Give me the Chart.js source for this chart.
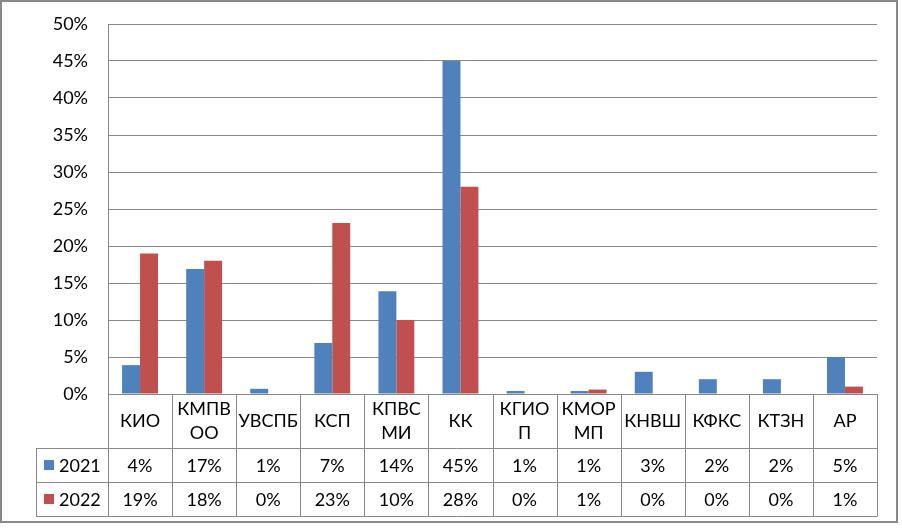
<!DOCTYPE html>
<html>
<head>
<meta charset="utf-8">
<script src="https://cdn.jsdelivr.net/npm/chart.js@4"></script>
<style>
  body { margin: 0; background: #fff; }
  canvas { display: block; }
</style>
</head>
<body>
<canvas id="chart" width="902" height="528"></canvas>
<script>
// Categories (split into lines as shown in the table header)
const categories = [
  ["КИО"], ["КМПВ", "ОО"], ["УВСПБ"], ["КСП"], ["КПВС", "МИ"], ["КК"],
  ["КГИО", "П"], ["КМОР", "МП"], ["КНВШ"], ["КФКС"], ["КТЗН"], ["АР"]
];
const seriesNames = ["2021", "2022"];
const values2021 = [3.9, 16.9, 0.7, 6.9, 13.9, 45, 0.4, 0.4, 3, 2, 2, 5];
const values2022 = [19, 18, 0, 23.1, 10, 28, 0, 0.6, 0, 0, 0, 1];
// Data table text as printed under the chart
const table2021 = ["4%", "17%", "1%", "7%", "14%", "45%", "1%", "1%", "3%", "2%", "2%", "5%"];
const table2022 = ["19%", "18%", "0%", "23%", "10%", "28%", "0%", "1%", "0%", "0%", "0%", "1%"];
const yTicks = [0, 5, 10, 15, 20, 25, 30, 35, 40, 45, 50];

const blue = "#4F81BD";
const red = "#C0504D";
const lineGray = "#898989";
const FONT = 'Lato, "Noto Sans", sans-serif';

const dataTablePlugin = {
  id: "dataTable",
  afterDraw(chart) {
    const ctx = chart.ctx;
    const x = chart.scales.x;
    const area = chart.chartArea;
    const top = area.bottom;
    const headerBottom = top + 54;
    const row1Bottom = headerBottom + 34;
    const row2Bottom = row1Bottom + 34;
    const legendLeft = 36;
    const n = categories.length;
    const step = (area.right - area.left) / n;

    ctx.save();
    ctx.strokeStyle = lineGray;
    ctx.lineWidth = 1;
    ctx.beginPath();
    // vertical lines at category boundaries
    for (let i = 0; i <= n; i++) {
      const px = Math.round(area.left + i * step) + 0.5;
      ctx.moveTo(px, top);
      ctx.lineTo(px, row2Bottom);
    }
    // horizontal row lines
    [headerBottom, row1Bottom, row2Bottom].forEach((yy) => {
      ctx.moveTo(legendLeft, yy + 0.5);
      ctx.lineTo(Math.round(area.right) + 0.5, yy + 0.5);
    });
    ctx.moveTo(legendLeft + 0.5, headerBottom);
    ctx.lineTo(legendLeft + 0.5, row2Bottom);
    ctx.stroke();

    ctx.fillStyle = "#000";
    ctx.font = "18px " + FONT;
    ctx.textAlign = "center";
    ctx.textBaseline = "middle";
    categories.forEach((lines, i) => {
      const cx = x.getPixelForValue(i);
      const cy = (top + headerBottom) / 2;
      if (lines.length === 1) {
        ctx.fillText(lines[0], cx, cy);
      } else {
        ctx.fillText(lines[0], cx, cy - 12);
        ctx.fillText(lines[1], cx, cy + 12);
      }
    });

    const rows = [
      { name: seriesNames[0], color: blue, labels: table2021, y: (headerBottom + row1Bottom) / 2 },
      { name: seriesNames[1], color: red, labels: table2022, y: (row1Bottom + row2Bottom) / 2 }
    ];
    rows.forEach((r) => {
      ctx.fillStyle = r.color;
      ctx.fillRect(44, Math.round(r.y) - 5, 10, 10);
      ctx.fillStyle = "#000";
      ctx.textAlign = "left";
      ctx.fillText(r.name, 59, r.y + 1);
      ctx.textAlign = "center";
      r.labels.forEach((t, i) => {
        ctx.fillText(t, x.getPixelForValue(i), r.y + 1);
      });
    });

    // outer frame
    ctx.strokeStyle = lineGray;
    ctx.lineWidth = 2;
    ctx.strokeRect(1, 1, 896, 521);
    ctx.restore();
  }
};

new Chart(document.getElementById("chart"), {
  type: "bar",
  data: {
    labels: categories.map((c) => c.join("")),
    datasets: [
      { label: seriesNames[0], data: values2021, backgroundColor: blue },
      { label: seriesNames[1], data: values2022, backgroundColor: red }
    ]
  },
  options: {
    responsive: false,
    animation: false,
    layout: { padding: { left: 0, top: 24, right: 25, bottom: 134 } },
    plugins: { legend: { display: false }, tooltip: { enabled: false } },
    datasets: { bar: { categoryPercentage: 0.56, barPercentage: 1 } },
    scales: {
      x: { display: false },
      y: {
        min: 0,
        max: 50,
        afterFit(scale) {
          scale.width = 108;
          scale.paddingTop = 0;
          scale.paddingBottom = 0;
        },
        afterBuildTicks(scale) { scale.ticks = yTicks.map((v) => ({ value: v })); },
        grid: { color: lineGray, drawTicks: false, lineWidth: 1 },
        border: { color: lineGray },
        ticks: {
          padding: 20,
          color: "#000",
          font: { family: FONT, size: 18 },
          callback: (v) => v + "%"
        }
      }
    }
  },
  plugins: [dataTablePlugin]
});
</script>
</body>
</html>
